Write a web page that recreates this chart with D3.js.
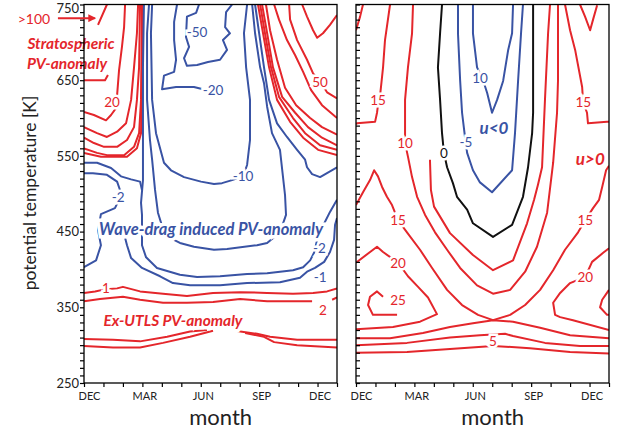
<!DOCTYPE html>
<html>
<head>
<meta charset="utf-8">
<script src="https://cdn.jsdelivr.net/npm/d3@7"></script>
<style>
  body { margin: 0; background: #fff; }
  svg text { font-family: "Lato", "Noto Sans", sans-serif; }
</style>
</head>
<body>
<div id="chart"></div>
<script>
//////////////////////////////////////////////////
//               DATA       //
//////////////////////////////////////////////////
// x: month index, 0 = DEC ... 12 = DEC, 13 = JAN ; y: potential temperature [K]
var monthTicks = d3.range(0, 14);
var monthLabels = {0: "DEC", 3: "MAR", 6: "JUN", 9: "SEP", 12: "DEC"};
var thetaTicks = d3.range(250, 751, 10);
var thetaLabels = [250, 350, 450, 550, 650, 750];

// left panel: PV anomaly contours (null = break in the line)
var pvContours = [
  {level: 100, pts: [[1.18,750],[0.72,723],null,[1.23,657],[1.08,650],[0,650]]},
  {level: 20, pts: [[2.11,750],[2.06,720],[1.95,694],[1.80,663],[1.70,630],[1.70,615],[1.39,604],[1.13,597],[0.51,604],[0,608]]},
  {level: 10, pts: [[2.78,750],[2.72,712],[2.57,667],[2.42,624],[2.16,593],[1.70,582],[1.18,575],[0.67,580],[0,588]]},
  {level: 5, pts: [[2.88,750],[2.83,667],[2.72,624],[2.57,588],[2.21,571],[1.70,562],[1.03,562],[0.51,567],[0,574]]},
  {level: 2, pts: [[2.98,750],[2.93,624],[2.83,580],[2.57,562],[2.06,551],[1.18,551],[0.67,554],[0,560]]},
  {level: 1, pts: [[3.03,750],[2.93,580],[2.72,560],[2.21,549],[0.87,549],[0,554]]},
  {level: -50, pts: [[5.91,750],[5.76,739],[5.29,734],[5.24,707],[5.40,694],[5.14,679],[5.29,669],[5.81,670],[6.37,674],[6.99,677],[7.35,690],[7.14,703],[7.50,712],[7.25,720],[7.30,740],[7.61,750]]},
  {level: -20, pts: [[4.78,750],[4.63,727],[4.63,703],[4.73,677],[4.63,661],[4.11,656],[4.01,638],[4.73,641],[5.65,641],[6.12,638],[6.60,637]]},
  {level: -10, pts: [[3.50,750],[3.44,712],[3.50,624],[3.70,580],[4.11,541],[4.47,531],[5.14,522],[6.01,516],[6.68,513],[7.09,514],[7.61,518],[8.17,523],[8.38,538],[8.53,571],[8.53,624],[8.33,667],[8.22,712],[8.38,750]]},
  {level: -5, pts: [[3.34,750],[3.24,712],[3.24,624],[3.39,571],[3.50,545],[3.65,505],[3.80,475],[4.16,445],[4.93,435],[5.65,430],[6.68,426],[7.35,427],[8.89,432],[9.41,435],[10.07,449],[10.38,472],[10.33,498],[10.07,558],[9.66,580],[9.41,615],[9.25,646],[9.05,667],[8.79,712],[8.64,750]]},
  {level: -2, pts: [[3.08,750],[3.03,667],[3.03,580],[3.03,518],[2.93,488],[2.98,472],[2.98,432],[3.19,416],[3.75,402],[4.93,393],[5.81,390],[6.99,391],[8.38,394],[9.41,395],[10.74,399],[11.26,403],[11.62,412],[11.82,422],[11.98,439],[12.23,455],[12.64,476],[13,492]]},
  {level: -1, pts: [[2.11,442],[2.21,432],[2.42,415],[2.98,402],[3.91,391],[4.57,382],[5.45,379],[6.99,379],[8.38,382],[10.07,383],[11.10,389],[11.46,397],[11.87,402],[12.34,410],[12.64,423],[12.85,439],[12.90,459],[13,468]]},
  {level: -1, pts: [[0,541],[0.67,541],[1.39,534],[1.90,523],[2.42,519],[2.88,516],[2.98,505]]},
  {level: -2, pts: [[0,527],[0.46,527],[1.18,525],[1.70,516],[1.85,505],[1.80,492],[1.59,481],[0.87,473],[0.72,452],[0.87,432],[0.62,412],[0,403]]},
  {level: -1, pts: [[8.79,750],[9.00,712],[9.25,667],[9.51,624],[9.92,593],[10.43,575],[10.95,558],[11.36,545],[11.46,535],[11.72,526],[12.13,522],[13,535]]},
  {level: 50, pts: [[10.54,750],[10.59,730],[10.95,703],[11.46,677],[11.77,659],[12.13,648],[12.49,634],[13,626]]},
  {level: 20, pts: [[9.77,750],[10.02,730],[10.43,703],[10.85,683],[11.26,661],[11.67,637],[12.23,617],[13,600]]},
  {level: 10, pts: [[9.35,750],[9.56,716],[9.92,677],[10.33,640],[10.90,617],[11.62,600],[12.23,588],[13,578]]},
  {level: 5, pts: [[9.15,750],[9.41,712],[9.71,667],[10.18,628],[10.85,607],[11.51,588],[12.23,574],[13,564]]},
  {level: 2, pts: [[9.05,750],[9.30,712],[9.61,667],[10.02,628],[10.74,600],[11.36,580],[12.13,564],[13,558]]},
  {level: 1, pts: [[8.94,750],[9.20,712],[9.51,667],[9.92,624],[10.59,595],[11.26,574],[12.03,558],[13,551]]},
  {level: 100, pts: [[11.21,750],[11.46,734],[11.77,716],[11.98,706],[12.28,712],[12.64,723],[13,736]]},
  {level: 1, pts: [[0,369],[0.57,371],[1.13,374],[1.70,375],[2.00,377],[2.88,371],[4.06,368],[5.29,365],[6.63,369],[8.02,370],[9.41,369],[10.74,368],[11.77,369],[12.49,371],[13,375]]},
  {level: 2, pts: [[0,358],[0.82,361],[2.00,364],[2.88,360],[4.06,356],[5.29,356],[6.63,357],[8.02,361],[9.41,358],[10.74,358],[11.72,358],null,[12.75,360],[13,363]]},
  {level: 5, pts: [[0,308],[1.49,307],[2.88,305],[4.27,311],[5.45,318],[6.32,320],null,[7.76,319],[8.89,315],[9.56,311],[10.95,307],[13,307]]},
  {level: 10, pts: [[0,299],[1.49,297],[2.88,297],[4.06,303],[5.45,311],[6.63,319],null,[8.28,316],[9.25,311],[9.77,304],[10.95,300],[13,297]]}
];

var pvLabels = [
  {text: "20", m: 1.44, th: 621, level: 20},
  {text: "-50", m: 5.81, th: 714, level: -50},
  {text: "-20", m: 6.63, th: 637, level: -20},
  {text: "-10", m: 8.17, th: 523, level: -10},
  {text: "-2", m: 1.75, th: 496, level: -2},
  {text: "-2", m: 12.1, th: 428, level: -2},
  {text: "-1", m: 12.13, th: 390, level: -1},
  {text: "50", m: 12.13, th: 648, level: 50},
  {text: "1", m: 1.13, th: 375, level: 1},
  {text: "2", m: 12.28, th: 346, level: 2}
];

var pvNotes = [
  {text: "Stratospheric", m: -0.67, th: 699, level: 1},
  {text: "PV-anomaly", m: -0.87, th: 673, level: 1},
  {text: "Wave-drag induced PV-anomaly", m: 6.53, th: 453, level: -1},
  {text: "Ex-UTLS PV-anomaly", m: 4.57, th: 333, level: 1}
];

// right panel: zonal wind contours
var windContours = [
  {level: 15, pts: [[0.36,750],[0.21,734],[0,716]]},
  {level: 15, pts: [[1.75,750],[1.64,730],[1.49,703],[1.39,667],[1.23,628],[1.13,617],[1.08,607],[0.98,595],[0.05,593],[0,592]]},
  {level: 10, pts: [[2.93,750],[2.88,712],[2.67,667],[2.52,624],[2.52,584],[2.52,567],[2.67,549],[2.88,522],[3.14,496],[3.55,472],[4.06,449],[4.68,426],[5.35,402],[6.22,379],[7.04,368],[7.92,373],[8.69,397],[9.30,430],[9.82,475],[10.13,541],[10.33,607],[10.38,650],[10.38,712],[10.38,750]]},
  {level: 5, pts: [[3.80,545],[3.85,505],[4.01,483],[4.83,448],[6.01,419],[7.04,399],[8.07,412],[8.79,461],[9.15,492],[9.35,512],[9.56,535],[9.71,624],[9.87,712],[9.97,750]]},
  {level: 0, pts: [[4.42,750],[4.32,712],[4.21,667],[4.32,624],[4.42,580],[4.52,554],[4.68,535],[4.98,514],[5.19,496],[5.71,479],[6.01,461],[7.04,443],[8.02,459],[8.58,496],[8.84,535],[9.05,580],[9.10,607],[9.10,667],[9.10,750]]},
  {level: -5, pts: [[5.24,750],[5.24,712],[5.35,650],[5.45,607],[5.60,575],[5.71,554],[6.01,531],[6.37,515],[6.99,502],[8.02,531],[8.17,580],[8.33,650],[8.48,712],[8.58,750]]},
  {level: -10, pts: [[6.01,750],[6.01,712],[6.22,667],[6.53,650],[6.74,633],[6.99,607],[7.25,624],[7.56,649],[7.82,690],[8.02,712],[8.07,750]]},
  {level: 15, pts: [[10.74,750],[11.00,716],[11.26,690],[11.62,641],[11.67,621],[11.87,607],[11.92,593],[12.90,595],[13,595]]},
  {level: 20, pts: [[11.51,750],[11.77,734],[12.03,716],[12.18,730],[12.39,749]]},
  {level: 15, pts: [[0,485],[0.36,502],[0.72,518],[0.93,531],[1.13,523],[1.34,509],[1.59,496],[1.85,485],[2.16,465],[2.62,449],[3.29,426],[3.91,402],[4.68,373],[5.45,353],[6.27,340],[7.04,333],[7.92,340],[8.69,353],[9.46,373],[10.13,399],[10.74,426],[11.41,449],[11.78,465],[12.18,481],[12.49,492],[12.65,509],[12.85,531],[13,537]]},
  {level: 15, pts: [[0,309],[1.75,309],[3.44,316],[4.83,324],[6.01,329],[7.04,333],[8.07,331],[9.46,323],[11.00,313],[13,309]]},
  {level: 10, pts: [[0,300],[2.62,303],[4.83,310],[6.37,313],[7.66,315],[8.07,312],[9.71,303],[11.51,299],[13,299]]},
  {level: 5, pts: [[0,290],[2.62,291],[4.83,295],[7.04,299],[8.94,296],[11.00,291],[13,289]]},
  {level: 20, pts: [[0,409],[1.08,430],[1.39,423],[2.16,409],[2.67,391],[3.19,377],[3.70,363],[4.16,341],[3.29,331],[1.90,324],[0,321]]},
  {level: 25, pts: [[1.39,364],[1.08,371],[0.72,364],[0.62,353],[0.87,340],[2.11,340]]},
  {level: 20, pts: [[13,428],[12.70,422],[12.13,410],[11.78,390],[11.00,382],[10.49,369],[10.13,356],[10.23,340],[10.49,337],[11.15,333],[13,320]]},
  {level: 25, pts: [[13,373],[12.65,360],[12.54,350],[12.90,340],[13,340]]}
];

var windLabels = [
  {text: "15", m: 1.13, th: 624, level: 15},
  {text: "10", m: 2.52, th: 567, level: 10},
  {text: "0", m: 4.52, th: 554, level: 0},
  {text: "-5", m: 5.65, th: 568, level: -5},
  {text: "10", m: 6.37, th: 653, level: -10},
  {text: "15", m: 11.68, th: 621, level: 15},
  {text: "15", m: 2.16, th: 465, level: 15},
  {text: "15", m: 11.78, th: 465, level: 15},
  {text: "20", m: 2.16, th: 408, level: 20},
  {text: "20", m: 11.78, th: 390, level: 20},
  {text: "25", m: 2.16, th: 360, level: 25},
  {text: "5", m: 7.04, th: 305, level: 5}
];

var windNotes = [
  {text: "u<0", m: 7.09, th: 588, level: -1},
  {text: "u>0", m: 12.04, th: 547, level: 1}
];

//////////////////////////////////////////////////
//               SET UP                           //
//////////////////////////////////////////////////
var width = 627, height = 432;
var plotTop = 4.5, plotBottom = 383;
var red = "#e4262b", blue = "#3953a4", black = "#111";

function colour(level) {
  return level < 0 ? blue : (level > 0 ? red : black);
}

var svg = d3.select("#chart").append("svg")
  .attr("width", width)
  .attr("height", height);

var defs = svg.append("defs");
defs.append("marker")
  .attr("id", "arrow")
  .attr("viewBox", "0 0 10 10")
  .attr("refX", 8).attr("refY", 5)
  .attr("markerWidth", 4).attr("markerHeight", 4)
  .attr("orient", "auto")
  .append("path")
  .attr("d", "M0,0L10,5L0,10z")
  .attr("fill", red);

var y = d3.scaleLinear().domain([250, 750]).range([plotBottom, plotTop]);

function drawPanel(id, x0, x1, contours, labels, notes, isLeft) {
  var x = d3.scaleLinear().domain([0, 13]).range([x0, x1]);
  var g = svg.append("g");

  defs.append("clipPath").attr("id", "clip" + id)
    .append("rect")
    .attr("x", x0).attr("y", plotTop)
    .attr("width", x1 - x0).attr("height", plotBottom - plotTop);

  var line = d3.line()
    .defined(d => d !== null)
    .x(d => x(d[0]))
    .y(d => y(d[1]));

  g.append("g").attr("clip-path", "url(#clip" + id + ")")
    .selectAll("path")
    .data(contours)
    .join("path")
    .attr("d", d => line(d.pts))
    .attr("fill", "none")
    .attr("stroke", d => colour(d.level))
    .attr("stroke-width", 2)
    .attr("stroke-linejoin", "round");

  // contour labels, with a white halo that cuts the line
  g.selectAll("text.lab")
    .data(labels)
    .join("text")
    .attr("class", "lab")
    .attr("x", d => x(d.m))
    .attr("y", d => y(d.th))
    .attr("text-anchor", "middle")
    .attr("dominant-baseline", "central")
    .attr("font-size", "13.5px")
    .attr("fill", d => colour(d.level))
    .attr("stroke", "#fff")
    .attr("stroke-width", 5)
    .attr("paint-order", "stroke")
    .text(d => d.text);

  g.selectAll("text.note")
    .data(notes)
    .join("text")
    .attr("class", "note")
    .attr("x", d => x(d.m))
    .attr("y", d => y(d.th))
    .attr("text-anchor", "middle")
    .attr("dominant-baseline", "central")
    .attr("font-size", d => d.text.length <= 3 ? "17px" : (d.text.length > 20 ? "16.5px" : "15.5px"))
    .attr("font-weight", "bold")
    .attr("font-style", "italic")
    .attr("fill", d => colour(d.level))
    .attr("stroke", "#fff")
    .attr("stroke-width", 7)
    .attr("paint-order", "stroke")
    .text(d => d.text);

  // frame
  g.append("rect")
    .attr("x", x0).attr("y", plotTop)
    .attr("width", x1 - x0).attr("height", plotBottom - plotTop)
    .attr("fill", "none")
    .attr("stroke", "#000")
    .attr("stroke-width", 1.3);

  // x axis
  var xAxis = g.append("g")
    .attr("transform", "translate(0," + plotBottom + ")")
    .call(d3.axisBottom(x)
      .tickValues(monthTicks)
      .tickSize(4)
      .tickPadding(5)
      .tickFormat(d => monthLabels[d] || ""));
  xAxis.select(".domain").remove();
  xAxis.selectAll("line").attr("stroke", "#000").attr("stroke-width", 1.2);
  xAxis.selectAll("text")
    .attr("font-size", "11px")
    .attr("fill", "#222")
    .attr("dx", d => d === 0 ? 5 : 2);

  // y axis
  if (isLeft) {
    var yAxis = g.append("g")
      .attr("transform", "translate(" + x0 + ",0)")
      .call(d3.axisLeft(y)
        .tickValues(thetaTicks)
        .tickSize(4)
        .tickPadding(1)
        .tickFormat(d => thetaLabels.indexOf(d) >= 0 ? d : ""));
    yAxis.select(".domain").remove();
    yAxis.selectAll("line").attr("stroke", "#000").attr("stroke-width", 1.2);
    yAxis.selectAll("text")
      .attr("font-size", "13px")
      .attr("fill", "#222")
      .attr("dy", d => d === 750 ? "0.62em" : "0.32em");
  } else {
    var yAxisR = g.append("g")
      .attr("transform", "translate(" + x0 + ",0)")
      .call(d3.axisRight(y)
        .tickValues(thetaTicks)
        .tickSize(4)
        .tickFormat(""));
    yAxisR.select(".domain").remove();
    yAxisR.selectAll("line").attr("stroke", "#000").attr("stroke-width", 1.2);
  }

  // axis title
  g.append("text")
    .attr("x", x(7.02))
    .attr("y", 425)
    .attr("text-anchor", "middle")
    .attr("font-size", "22px")
    .attr("fill", "#222")
    .text("month");

  return x;
}

var xL = drawPanel("L", 84, 337, pvContours, pvLabels, pvNotes, true);
drawPanel("R", 356, 609, windContours, windLabels, windNotes, false);

// ">100" marker with arrow, outside the left frame
svg.append("text")
  .attr("x", xL(-2.57))
  .attr("y", y(732))
  .attr("text-anchor", "middle")
  .attr("dominant-baseline", "central")
  .attr("font-size", "14px")
  .attr("fill", red)
  .text(">100");

svg.append("line")
  .attr("x1", xL(-1.34)).attr("y1", y(732))
  .attr("x2", xL(0.55)).attr("y2", y(732))
  .attr("stroke", red)
  .attr("stroke-width", 2)
  .attr("marker-end", "url(#arrow)");

// y axis title
svg.append("text")
  .attr("transform", "translate(29," + y(501) + ") rotate(-90)")
  .attr("text-anchor", "middle")
  .attr("dominant-baseline", "central")
  .attr("font-size", "17.5px")
  .attr("fill", "#222")
  .text("potential temperature [K]");
</script>
</body>
</html>
